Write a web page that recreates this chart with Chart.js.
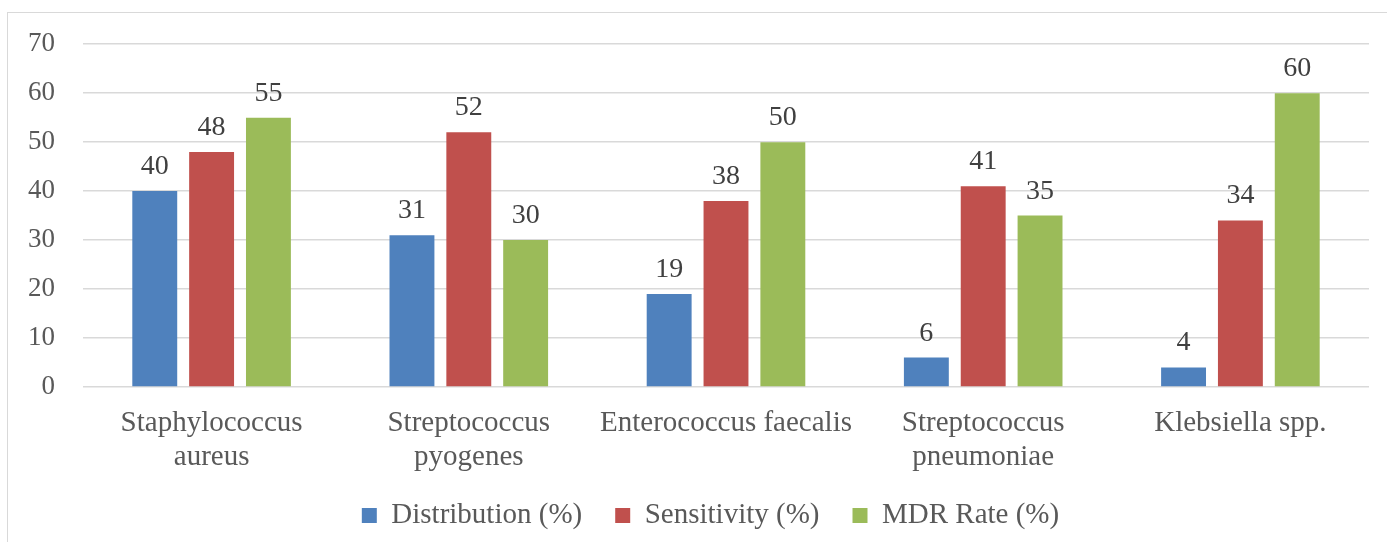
<!DOCTYPE html>
<html>
<head>
<meta charset="utf-8">
<script src="https://cdn.jsdelivr.net/npm/chart.js@4/dist/chart.umd.min.js"></script>
<style>
  html, body { margin: 0; padding: 0; background: #fff; }
  #wrap { position: relative; width: 1387px; height: 542px; overflow: hidden; }
  #frame { position: absolute; left: 7px; top: 12px; width: 1400px; height: 560px; border: 1px solid #d9d9d9; box-sizing: border-box; }
  canvas { position: absolute; left: 0; top: 0; }
</style>
</head>
<body>
<div id="wrap">
  <div id="frame"></div>
  <canvas id="chart" width="1387" height="551"></canvas>
</div>
<script>
// values
const categories = [
  ['Staphylococcus', 'aureus'],
  ['Streptococcus', 'pyogenes'],
  'Enterococcus faecalis',
  ['Streptococcus', 'pneumoniae'],
  'Klebsiella spp.'
];
const distribution = [40, 31, 19, 6, 4];
const sensitivity = [48, 52, 38, 41, 34];
const mdrRate = [55, 30, 50, 35, 60];
const seriesNames = ['Distribution (%)', 'Sensitivity (%)', 'MDR Rate (%)'];
const seriesColors = ['#4F81BD', '#C0504D', '#9BBB59'];

const FONT = "'Liberation Serif', 'Times New Roman', serif";

// draws the value above each bar, like Excel data labels
const valueLabels = {
  id: 'valueLabels',
  afterDatasetsDraw(chart) {
    const ctx = chart.ctx;
    ctx.save();
    ctx.font = '28px ' + FONT;
    ctx.fillStyle = '#404040';
    ctx.textAlign = 'center';
    ctx.textBaseline = 'alphabetic';
    chart.data.datasets.forEach((ds, i) => {
      chart.getDatasetMeta(i).data.forEach((bar, j) => {
        ctx.fillText(ds.data[j], bar.x, bar.y - 17);
      });
    });
    ctx.restore();
  }
};

// Excel puts the legend a bit right of the middle and tucks it under the labels
const legendShift = {
  id: 'legendShift',
  afterLayout(chart) {
    const lg = chart.legend;
    lg.left += 26;
    lg.right += 26;
    lg.top -= 11;
    lg.bottom -= 11;
  }
};

new Chart(document.getElementById('chart'), {
  type: 'bar',
  data: {
    labels: categories,
    datasets: [distribution, sensitivity, mdrRate].map((d, i) => ({
      label: seriesNames[i],
      data: d,
      backgroundColor: seriesColors[i],
      categoryPercentage: 0.663,
      barPercentage: 0.79,
    })),
  },
  options: {
    responsive: false,
    animation: false,
    layout: { padding: { left: 0, right: 18, top: 37, bottom: 0 } },
    plugins: {
      legend: {
        position: 'bottom',
        labels: {
          font: { family: FONT, size: 29 },
          color: '#595959',
          boxWidth: 15,
          boxHeight: 15,
          padding: 33,
        },
      },
      tooltip: { enabled: false },
    },
    scales: {
      x: {
        grid: { display: false },
        border: { display: false },
        ticks: {
          font: { family: FONT, size: 29, lineHeight: 1.15 },
          color: '#595959',
          padding: 12,
          maxRotation: 0,
          autoSkip: false,
        },
        afterFit: scale => { scale.height = 92; },
      },
      y: {
        min: 0,
        max: 70,
        ticks: {
          stepSize: 10,
          font: { family: FONT, size: 27 },
          color: '#595959',
          padding: 28,
        },
        grid: { color: '#d9d9d9', lineWidth: 1.5, drawTicks: false },
        border: { display: false },
      },
    },
  },
  plugins: [valueLabels, legendShift],
});
</script>
</body>
</html>
